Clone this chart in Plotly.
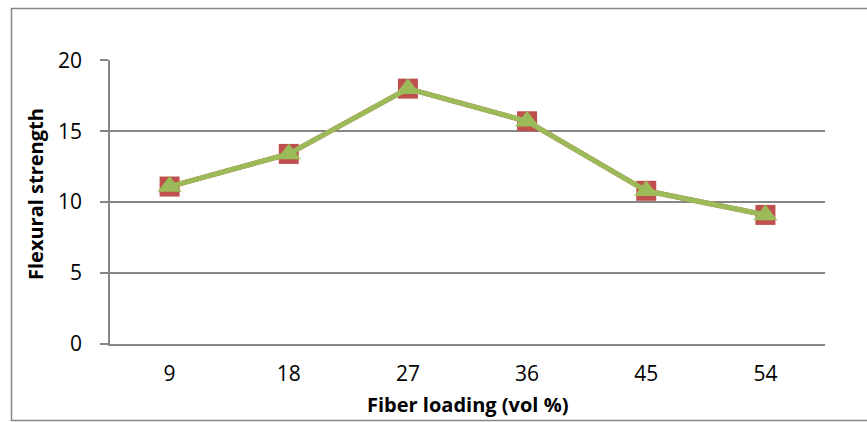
import plotly.graph_objects as go

# Flexural strength versus fiber loading
fiber_loading = ["9", "18", "27", "36", "45", "54"]
strength_a = [11.1, 13.4, 18.0, 15.7, 10.8, 9.1]
strength_b = [11.1, 13.4, 18.0, 15.7, 10.8, 9.1]

W, H = 867, 422
L, R, T, B = 110, 42, 60, 78
pw, ph = W - L - R, H - T - B

def px_x(x):
    return (x - L) / pw

def px_y(y):
    return (H - B - y) / ph

fig = go.Figure()
fig.add_trace(go.Scatter(
    x=fiber_loading, y=strength_a, mode="lines+markers",
    line=dict(color="#C0504D", width=5),
    marker=dict(symbol="square", size=20, color="#C0504D"),
    showlegend=False, cliponaxis=False,
))
fig.add_trace(go.Scatter(
    x=fiber_loading, y=strength_b, mode="lines+markers",
    line=dict(color="#9BBB59", width=5),
    marker=dict(symbol="triangle-up", size=21, color="#9BBB59"),
    showlegend=False, cliponaxis=False,
))

font = "Open Sans, sans-serif"
fig.update_layout(
    width=W, height=H,
    margin=dict(l=L, r=R, t=T, b=B),
    paper_bgcolor="white", plot_bgcolor="white",
    font=dict(family=font, size=21, color="black"),
    xaxis=dict(
        type="category", range=[-0.5, 5.5], showgrid=False, zeroline=False,
        showline=True, linecolor="#868686", linewidth=1.5,
        ticks="", tickfont=dict(size=21), ticklabelstandoff=10,
    ),
    yaxis=dict(
        range=[0, 20.02], tickvals=[0, 5, 10, 15, 20],
        showgrid=True, gridcolor="#868686", gridwidth=1.5,
        zeroline=False, showline=True, linecolor="#868686", linewidth=1.5,
        ticks="outside", ticklen=8, tickcolor="#868686", tickwidth=1.5,
        tickfont=dict(size=21), ticklabelstandoff=14,
    ),
    shapes=[dict(
        type="rect", xref="paper", yref="paper",
        x0=px_x(11.5), x1=px_x(920), y0=px_y(420.5), y1=px_y(8.5),
        line=dict(color="#868686", width=1.5), fillcolor="rgba(0,0,0,0)",
        layer="below",
    )],
    annotations=[
        dict(text="<b>Fiber loading (vol %)</b>", xref="paper", yref="paper",
             x=px_x(467), y=px_y(404), showarrow=False,
             font=dict(size=20, family=font), xanchor="center", yanchor="middle"),
        dict(text="<b>Flexural strength</b>", xref="paper", yref="paper",
             x=px_x(35), y=px_y(194), showarrow=False, textangle=-90,
             font=dict(size=20, family=font), xanchor="center", yanchor="middle"),
    ],
)

fig.write_html("out.html")
